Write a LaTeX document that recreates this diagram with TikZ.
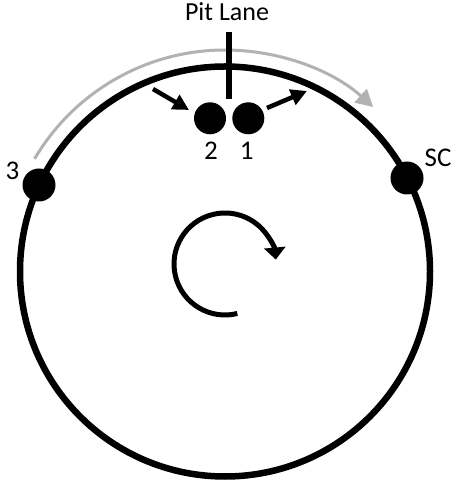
\documentclass[tikz,border=0pt]{standalone}
\usepackage{fontspec}
\setmainfont{Carlito}
\usetikzlibrary{arrows.meta}
\definecolor{arcgray}{RGB}{178,178,178}
\tikzset{
  dotnode/.style={circle, fill=black, inner sep=0pt, minimum size=32pt},
  lbl/.style={font=\fontsize{27}{27}\selectfont, anchor=base, inner sep=0pt},
  smallarrow/.style={line width=4.5pt, -{Triangle[length=16pt,width=16pt]}},
}
\begin{document}
\begin{tikzpicture}[x=1pt,y=1pt]
\useasboundingbox (0,0) rectangle (454,481);
% track
\node[circle, draw, line width=6.5pt, minimum size=410pt, inner sep=0pt] (track) at (225,209.5) {};
% gray direction arc
\coordinate (gc) at (225,210);
\draw[arcgray, line width=3pt, -{Triangle[length=17pt,width=18pt]}]
  ([shift={(gc)}]149.5:221) arc[start angle=149.5, end angle=47.9, radius=221];
% pit lane
\coordinate (pitTop) at (229.2,448.7);
\coordinate (pitBot) at (229.2,382);
\draw[line width=5.5pt] (pitTop) -- (pitBot);
\node[font=\fontsize{26}{26}\selectfont, anchor=base, inner sep=0pt] (pitlabel) at (227,460.5) {Pit Lane};
% cars
\node[dotnode] (d2) at (210,362.7) {};
\node[dotnode] (d1) at (248.3,362.7) {};
\node[dotnode, minimum size=33pt] (d3) at (39,296) {};
\node[dotnode, minimum size=33pt] (dsc) at (407,303) {};
% labels
\node[lbl] (l2) at (211,321) {2};
\node[lbl] (l1) at (246.7,321) {1};
\node[lbl] (l3) at (12.5,301) {3};
\node[lbl] (lsc) at (438,314.3) {SC};
% small arrows
\coordinate (inA) at (153,392);
\coordinate (inB) at (189,371);
\coordinate (outA) at (267,373);
\coordinate (outB) at (307,390);
\draw[smallarrow] (inA) -- (inB);
\draw[smallarrow] (outA) -- (outB);
% rotation arrow
\coordinate (rc) at (225,217);
\draw[line width=5pt, -{Triangle[length=12pt,width=21pt]}]
  ([shift={(rc)}]-76:51) arc[start angle=-76, end angle=-355, radius=51];
\end{tikzpicture}
\end{document}
